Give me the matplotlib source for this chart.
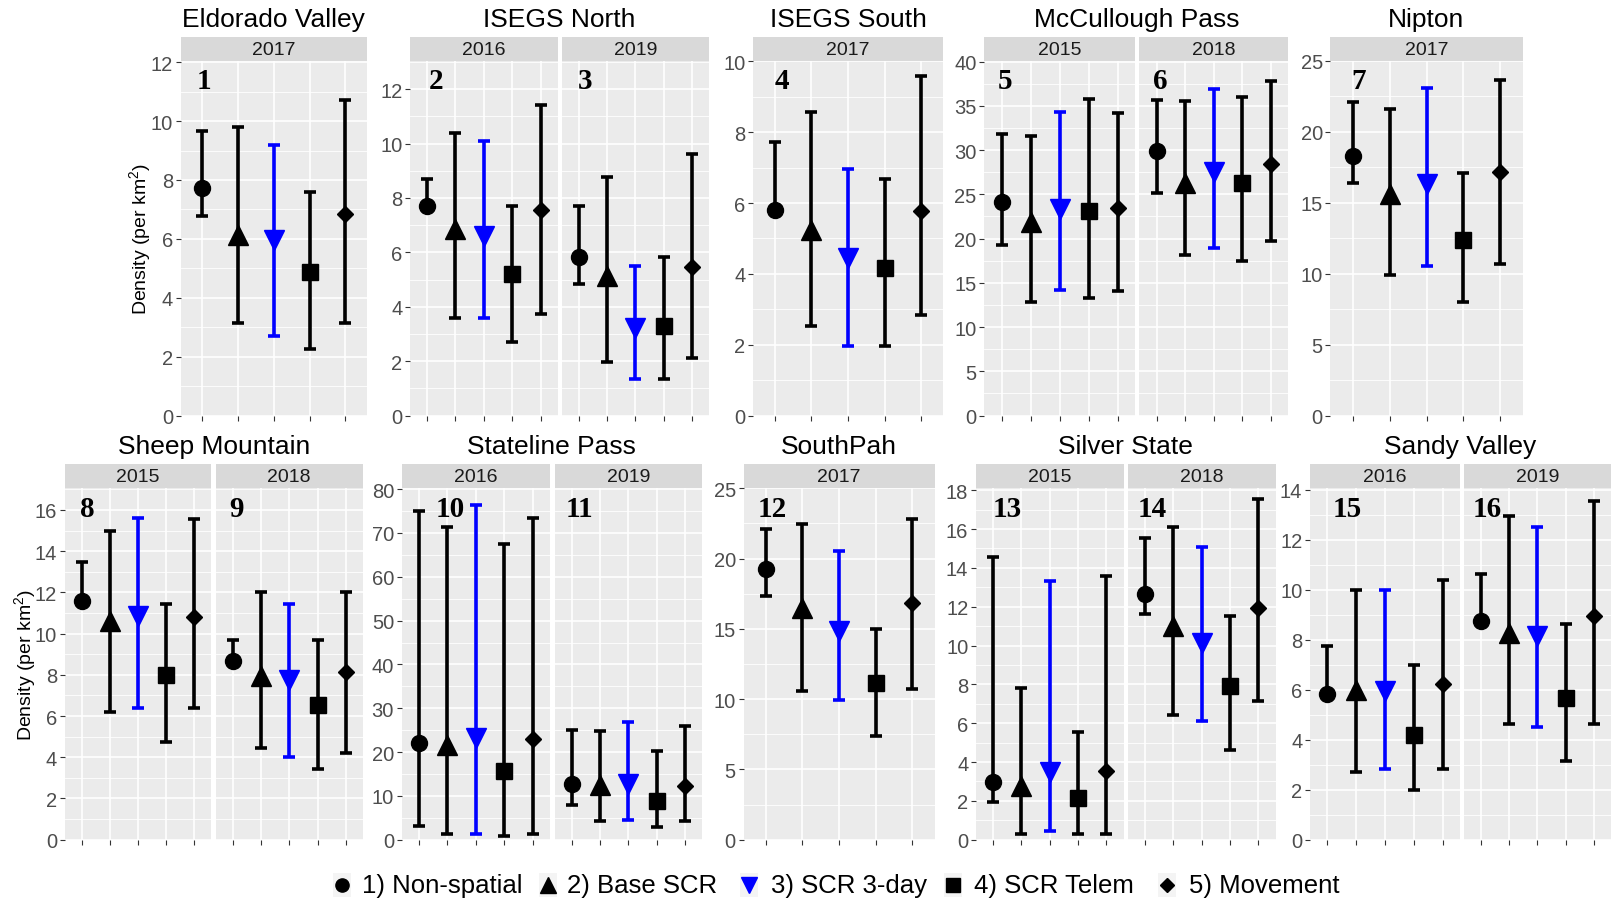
import matplotlib
matplotlib.use("Agg")
import matplotlib.pyplot as plt
from matplotlib.transforms import blended_transform_factory
from matplotlib.lines import Line2D
from matplotlib.patches import Rectangle
import numpy as np

plt.rcParams['font.family'] = ['Liberation Sans', 'DejaVu Sans']
plt.rcParams['mathtext.fontset'] = 'custom'
plt.rcParams['mathtext.rm'] = 'Liberation Sans'
plt.rcParams['mathtext.it'] = 'Liberation Sans:italic'

# ---------------- data ----------------
methods = ["1) Non-spatial", "2) Base SCR", "3) SCR 3-day", "4) SCR Telem", "5) Movement"]
sites = ["Eldorado Valley", "ISEGS North", "ISEGS South", "McCullough Pass", "Nipton",
         "Sheep Mountain", "Stateline Pass", "SouthPah", "Silver State", "Sandy Valley"]
site_years = [["2017"], ["2016", "2019"], ["2017"], ["2015", "2018"], ["2017"],
              ["2015", "2018"], ["2016", "2019"], ["2017"], ["2015", "2018"], ["2016", "2019"]]
y_max = [12.05, 13.05, 10.02, 40.1, 25.0, 17.05, 80.2, 25.0, 18.1, 14.05]
y_step = [2, 2, 2, 5, 5, 2, 10, 5, 2, 2]

est_01 = [7.74, 6.14, 5.97, 4.89, 6.83]
lo_01 = [6.77, 3.15, 2.70, 2.25, 3.15]
hi_01 = [9.65, 9.80, 9.20, 7.59, 10.72]

est_02 = [7.71, 6.87, 6.62, 5.20, 7.57]
lo_02 = [7.62, 3.59, 3.59, 2.70, 3.74]
hi_02 = [8.69, 10.40, 10.10, 7.71, 11.41]

est_03 = [5.82, 5.14, 3.22, 3.28, 5.48]
lo_03 = [4.83, 1.98, 1.36, 1.36, 2.10]
hi_03 = [7.71, 8.79, 5.51, 5.82, 9.63]

est_04 = [5.79, 5.25, 4.45, 4.17, 5.77]
lo_04 = [5.72, 2.54, 1.96, 1.96, 2.85]
hi_04 = [7.71, 8.57, 6.96, 6.68, 9.60]

est_05 = [24.1, 21.9, 23.3, 23.1, 23.5]
lo_05 = [19.25, 12.8, 14.15, 13.3, 14.1]
hi_05 = [31.8, 31.6, 34.3, 35.8, 34.15]

est_06 = [29.9, 26.3, 27.5, 26.3, 28.4]
lo_06 = [25.1, 18.1, 18.9, 17.5, 19.7]
hi_06 = [35.7, 35.5, 36.9, 36.0, 37.8]

est_07 = [18.3, 15.6, 16.3, 12.35, 17.16]
lo_07 = [16.4, 9.93, 10.56, 8.03, 10.7]
hi_07 = [22.1, 21.6, 23.1, 17.07, 23.66]

est_08 = [11.57, 10.6, 10.84, 8.0, 10.81]
lo_08 = [11.45, 6.22, 6.41, 4.74, 6.41]
hi_08 = [13.47, 14.98, 15.6, 11.46, 15.58]

est_09 = [8.68, 7.92, 7.76, 6.54, 8.13]
lo_09 = [8.56, 4.46, 4.03, 3.43, 4.19]
hi_09 = [9.68, 12.03, 11.46, 9.68, 12.03]

est_10 = [22.1, 21.6, 23.1, 15.7, 22.9]
lo_10 = [3.05, 1.2, 1.2, 0.76, 1.2]
hi_10 = [75.1, 71.3, 76.3, 67.5, 73.5]

est_11 = [12.65, 12.4, 12.8, 8.84, 12.27]
lo_11 = [7.85, 4.27, 4.57, 2.9, 4.27]
hi_11 = [25.1, 24.8, 26.9, 20.2, 25.9]

est_12 = [19.27, 16.47, 14.88, 11.14, 16.82]
lo_12 = [17.37, 10.55, 9.95, 7.35, 10.73]
hi_12 = [22.1, 22.46, 20.57, 14.98, 22.8]

est_13 = [2.96, 2.78, 3.47, 2.13, 3.56]
lo_13 = [1.96, 0.29, 0.46, 0.29, 0.29]
hi_13 = [14.55, 7.8, 13.3, 5.53, 13.56]

est_14 = [12.63, 11.03, 10.14, 7.94, 11.92]
lo_14 = [11.6, 6.44, 6.13, 4.64, 7.13]
hi_14 = [15.53, 16.1, 15.07, 11.5, 17.56]

est_15 = [5.83, 6.0, 5.93, 4.2, 6.24]
lo_15 = [5.73, 2.71, 2.84, 2.0, 2.84]
hi_15 = [7.76, 9.97, 9.97, 7.0, 10.4]

est_16 = [8.73, 8.27, 8.16, 5.67, 8.93]
lo_16 = [8.63, 4.64, 4.49, 3.16, 4.64]
hi_16 = [10.64, 12.96, 12.5, 8.64, 13.56]

estimates = [est_01, est_02, est_03, est_04, est_05, est_06, est_07, est_08,
             est_09, est_10, est_11, est_12, est_13, est_14, est_15, est_16]
lowers = [lo_01, lo_02, lo_03, lo_04, lo_05, lo_06, lo_07, lo_08,
          lo_09, lo_10, lo_11, lo_12, lo_13, lo_14, lo_15, lo_16]
uppers = [hi_01, hi_02, hi_03, hi_04, hi_05, hi_06, hi_07, hi_08,
          hi_09, hi_10, hi_11, hi_12, hi_13, hi_14, hi_15, hi_16]

# ---------------- layout / style ----------------
W, H = 1611, 903
fig = plt.figure(figsize=(W / 100, H / 100), dpi=100)

markers = ['o', '^', 'v', 's', 'D']
msizes = [11.5, 14, 14, 12, 8]
colors = ['black', 'black', '#0000FF', 'black', 'black']

rows = {0: (37.5, 61.7, 416.5, 20.0), 1: (464.5, 489.3, 840.7, 447.0)}  # strip top, panel top, bottom, title y
site_row = [0, 0, 0, 0, 0, 1, 1, 1, 1, 1]
panel_x = [
    [(180.8, 366.8)],
    [(409.9, 557.9), (562.0, 708.9)],
    [(753.0, 943.0)],
    [(984.2, 1135.2), (1139.4, 1288.3)],
    [(1330.4, 1522.6)],
    [(64.7, 210.6), (215.8, 362.7)],
    [(401.7, 549.7), (554.8, 701.7)],
    [(743.5, 934.5)],
    [(976.0, 1123.5), (1128.0, 1275.5)],
    [(1310.0, 1460.0), (1463.5, 1611.0)],
]
label_x = [1.06, 1.31, 1.2, 1.18, 1.11, 1.14, 1.17, 1.19, 1.13, 2.1,
           1.28, 1.18, 1.49, 1.25, 1.7, 1.23]
ylabel_x = {0: 140, 1: 25}

BG = '#EBEBEB'
STRIP = '#D9D9D9'
xs = np.arange(1, 6)


def rect(x0, x1, y0, y1):
    return [x0 / W, 1 - y1 / H, (x1 - x0) / W, (y1 - y0) / H]


pnum = 0
for s, site in enumerate(sites):
    st, pt, pb, ty = rows[site_row[s]]
    spans = panel_x[s]
    for j, year in enumerate(site_years[s]):
        x0, x1 = spans[j]
        # strip
        sax = fig.add_axes(rect(x0, x1, st, pt))
        sax.set_facecolor(STRIP)
        sax.set_xticks([]); sax.set_yticks([])
        for sp in sax.spines.values():
            sp.set_visible(False)
        sax.text(0.5, 0.47, year, ha='center', va='center', fontsize=14,
                 color='#1A1A1A', transform=sax.transAxes)
        # panel
        ax = fig.add_axes(rect(x0, x1, pt, pb))
        ax.set_facecolor(BG)
        for sp in ax.spines.values():
            sp.set_visible(False)
        ax.set_xlim(0.4, 5.6)
        ax.set_ylim(0, y_max[s])
        step = y_step[s]
        majors = np.arange(0, y_max[s] + 1e-9, step)
        minors = np.arange(step / 2, y_max[s], step)
        ax.set_yticks(majors)
        ax.set_yticks(minors, minor=True)
        ax.set_xticks(xs)
        ax.set_xticklabels([])
        if j == 0:
            ax.set_yticklabels([f"{int(v)}" for v in majors])
            ax.tick_params(axis='y', which='major', length=3.5, width=0.8, color='#333333',
                           labelsize=14.5, labelcolor='#4D4D4D', pad=2)
        else:
            ax.set_yticklabels([])
            ax.tick_params(axis='y', which='major', length=0)
        ax.tick_params(axis='x', which='major', length=3.5, width=0.8, color='#333333')
        ax.tick_params(which='minor', length=0)
        ax.grid(which='major', color='white', lw=1.2, zorder=0)
        ax.grid(which='minor', axis='y', color='white', lw=0.6, zorder=0)
        ax.set_axisbelow(True)

        e = estimates[pnum]; lo = lowers[pnum]; hi = uppers[pnum]
        for i in range(5):
            ax.errorbar([xs[i]], [e[i]], yerr=[[e[i] - lo[i]], [hi[i] - e[i]]], fmt='none',
                        ecolor=colors[i], elinewidth=2.6, capsize=4.5, capthick=2.6, zorder=3)
            ax.plot([xs[i]], [e[i]], marker=markers[i], ms=msizes[i], color=colors[i],
                    mec=colors[i], ls='none', zorder=4)
        tr = blended_transform_factory(ax.transData, ax.transAxes)
        ax.text(label_x[pnum], 0.943, str(pnum + 1), transform=tr, ha='center', va='center',
                fontsize=21, fontweight='bold', family=['Liberation Serif', 'DejaVu Serif'],
                color='black', zorder=5)
        pnum += 1
    # site title
    cx = (spans[0][0] + spans[-1][1]) / 2
    fig.text(cx / W, 1 - ty / H, site, ha='center', va='center', fontsize=19, color='black')

# y labels
for r in (0, 1):
    st, pt, pb, ty = rows[r]
    fig.text(ylabel_x[r] / W, 1 - ((pt + pb) / 2) / H, 'Density (per km$^{2}$)', rotation=90,
             ha='center', va='center', fontsize=14, color='black')

# legend
leg_y = 886
leg_marker_x = [342, 548, 749, 953, 1167]
leg_text_x = [362, 567, 771, 974, 1189]
leg_ms = [9.5, 11, 11, 9.5, 7]
for i, lab in enumerate(methods):
    mx = leg_marker_x[i]
    fig.add_artist(Rectangle(((mx - 9) / W, 1 - (leg_y + 12) / H), 18 / W, 24 / H,
                             transform=fig.transFigure, facecolor='#F4F4F4', edgecolor='none'))
    fig.add_artist(Line2D([mx / W], [1 - leg_y / H], transform=fig.transFigure,
                          marker=markers[i], ms=leg_ms[i], color=colors[i], mec=colors[i], ls='none'))
    fig.text(leg_text_x[i] / W, 1 - leg_y / H, lab, ha='left', va='center', fontsize=18.5,
             color='black')

fig.savefig('out.png', dpi=100, facecolor='white')
